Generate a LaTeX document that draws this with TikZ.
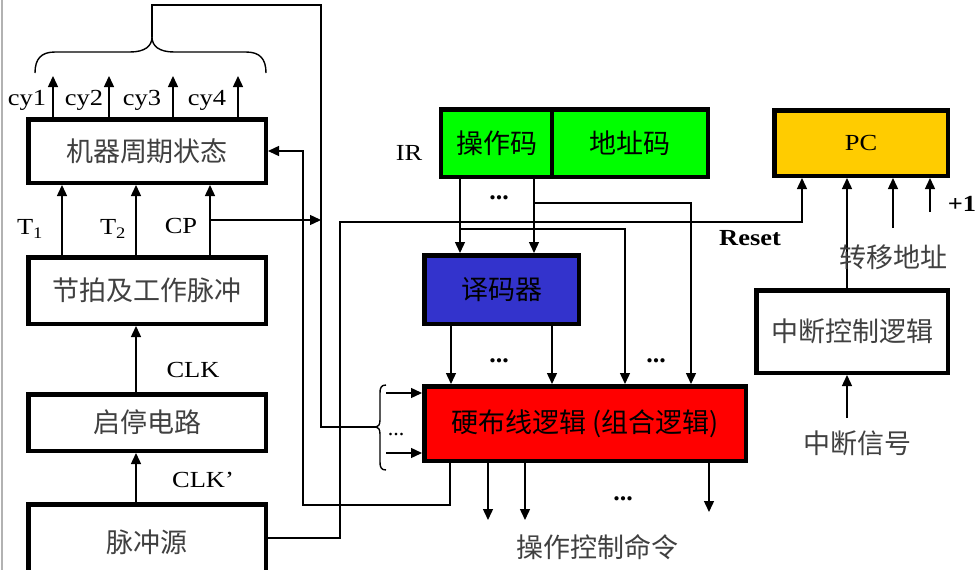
\documentclass[tikz,border=0pt]{standalone}
\usepackage{fontspec}
\setmainfont{Liberation Serif}
\newfontfamily\cjk{Noto Sans CJK SC}
\usetikzlibrary{arrows.meta}
\definecolor{irgreen}{RGB}{0,255,0}
\definecolor{decblue}{RGB}{51,51,204}
\definecolor{hwred}{RGB}{255,0,0}
\definecolor{pcyellow}{RGB}{255,204,0}
\newcommand{\hstr}[1]{\scalebox{1.15}[1]{#1}}
\tikzset{
  box/.style={draw=black, line width=4.5pt, inner sep=0pt, font=\cjk\fontsize{27}{27}\selectfont, text=black!75},
  cbox/.style={box, text=black},
  arr/.style={line width=1.4pt, -{Triangle[length=11pt,width=10pt]}},
  wire/.style={line width=1.4pt},
  lab/.style={font=\fontsize{23}{23}\selectfont, inner sep=0pt},
  blab/.style={font=\bfseries\fontsize{23}{23}\selectfont, inner sep=0pt},
  cjklab/.style={font=\cjk\fontsize{27}{27}\selectfont, inner sep=0pt, text=black!75},
  dotlab/.style={font=\bfseries\fontsize{26}{26}\selectfont, inner sep=0pt, anchor=base}
}
\begin{document}
\begin{tikzpicture}[x=1pt,y=-1pt]
\useasboundingbox (0,0) rectangle (978,570);
\clip (0,0) rectangle (978,570);
\fill[white] (0,0) rectangle (978,570);
\draw[gray!60, line width=1.5pt] (2,0) -- (2,570);

% left column boxes
\node[box, minimum width=237.5pt, minimum height=63.5pt] (mc) at (147,151) {机器周期状态};
\node[box, minimum width=237.5pt, minimum height=66.5pt] (jp) at (147,290.5) {节拍及工作脉冲};
\node[box, minimum width=237.5pt, minimum height=56.5pt] (qt) at (147,422.5) {启停电路};
\node[box, minimum width=237.5pt, minimum height=75.5pt] (ps) at (147,542) {脉冲源};

% IR, decoder, hardwired logic
\node[cbox, fill=irgreen, minimum width=110.75pt, minimum height=67.5pt] (op) at (496.6,143) {操作码};
\node[cbox, fill=irgreen, minimum width=155.75pt, minimum height=67.5pt] (ad) at (629.9,143) {地址码};
\node[cbox, fill=decblue, minimum width=154.5pt, minimum height=68.5pt] (dec) at (501.5,289.5) {译码器};
\node[cbox, fill=hwred, minimum width=321.5pt, minimum height=74.5pt] (red) at (585,423.5) {硬布线逻辑 (组合逻辑)};

% PC and interrupt logic
\node[cbox, fill=pcyellow, minimum width=173.5pt, minimum height=65.5pt, font=\fontsize{23}{23}\selectfont] (pc) at (861,143) {\hstr{PC}};
\node[box, minimum width=191.5pt, minimum height=82.5pt] (int) at (852,331.5) {中断控制逻辑};

% cy outputs
\foreach \x/\n in {53/1,109/2,173/3,238/4} {
  \coordinate (cy\n) at (\x,76);
  \draw[arr] (mc.north -| cy\n) -- (cy\n);
}
\node[lab] at (27,100) {\hstr{cy1}};
\node[lab] at (84,100) {\hstr{cy2}};
\node[lab] at (142,100) {\hstr{cy3}};
\node[lab] at (207,100) {\hstr{cy4}};

% brace above cy and bus
\coordinate (btip) at (152,37);
\draw[wire] (35,73) .. controls (35,59) and (41,52) .. (55,52) -- (130,52)
  .. controls (145,52) and (152,46) .. (btip)
  .. controls (152,46) and (159,52) .. (174,52) -- (246,52)
  .. controls (260,52) and (266,59) .. (266,73);
\coordinate (bus0) at (152,5);
\coordinate (bus1) at (321,5);
\coordinate (bus2) at (321,427);
\coordinate (ltip) at (376,427);
\draw[wire] (btip) -- (bus0) -- (bus1) -- (bus2) -- (ltip);

% T1 T2 CP
\coordinate (tx1) at (62,0);
\coordinate (tx2) at (136,0);
\coordinate (tx3) at (210,0);
\foreach \n in {1,2,3} \draw[arr] (jp.north -| tx\n) -- (mc.south -| tx\n);
\node[lab] at (30,229) {\hstr{T$_{\mathrm{1}}$}};
\node[lab] at (113,229) {\hstr{T$_{\mathrm{2}}$}};
\node[lab] at (181,226) {\hstr{CP}};
\coordinate (cpj) at (210,220);
\coordinate (cpe) at (321,220);
\draw[arr] (cpj) -- (cpe);

% CLK, CLK'
\draw[arr] (qt.north -| tx2) -- (jp.south -| tx2);
\draw[arr] (ps.north -| tx2) -- (qt.south -| tx2);
\node[lab] at (193,370) {\hstr{CLK}};
\node[lab] at (203,480) {\hstr{CLK’}};

% feedback from hardwired logic to machine cycle state
\coordinate (fb1) at (450,505);
\coordinate (fb2) at (303,505);
\draw[arr] (red.south -| fb1) -- (fb1) -- (fb2) -- (fb2 |- mc.east) -- (mc.east);

% reset from pulse source to PC
\coordinate (r1) at (340,538);
\coordinate (r2) at (340,222);
\coordinate (r3) at (802,222);
\draw[arr] (ps.east |- r1) -- (r1) -- (r2) -- (r3) -- (pc.south -| r3);
\node[blab] at (750,238) {\hstr{Reset}};

% IR label and outputs
\node[lab] at (409,153) {\hstr{IR}};
\coordinate (a1) at (460,229);
\coordinate (a2) at (534,203);
\draw[arr] (op.south -| a1) -- (dec.north -| a1);
\draw[arr] (op.south -| a2) -- (dec.north -| a2);
\coordinate (b1) at (625,229);
\coordinate (b2) at (691,203);
\draw[arr] (a1) -- (b1) -- (red.north -| b1);
\draw[arr] (a2) -- (b2) -- (red.north -| b2);
\node[dotlab] at (499,199) {...};

% decoder outputs
\coordinate (d1) at (451,0);
\coordinate (d2) at (552,0);
\draw[arr] (dec.south -| d1) -- (red.north -| d1);
\draw[arr] (dec.south -| d2) -- (red.north -| d2);
\node[dotlab] at (499,362) {...};
\node[dotlab] at (656,362) {...};

% left inputs of hardwired logic with brace
\coordinate (i1) at (386,393);
\coordinate (i2) at (386,453);
\draw[arr] (i1) -- (red.west |- i1);
\draw[arr] (i2) -- (red.west |- i2);
\draw[wire] (386,385) .. controls (381,385) and (380,388) .. (380,393) -- (380,420)
  .. controls (380,425) and (378,427) .. (ltip)
  .. controls (378,427) and (380,429) .. (380,434) -- (380,462)
  .. controls (380,467) and (381,470) .. (386,470);
\node[dotlab, font=\fontsize{22}{22}\selectfont] at (396,435) {...};

% outputs of hardwired logic
\coordinate (o1) at (488,520);
\coordinate (o2) at (525,520);
\coordinate (o3) at (709,512);
\foreach \n in {1,2,3} \draw[arr] (red.south -| o\n) -- (o\n);
\node[dotlab] at (623,500) {...};
\node[cjklab] at (597,547) {操作控制命令};

% PC inputs
\coordinate (p2) at (847,0);
\coordinate (p3) at (893,228);
\coordinate (p4) at (930,212);
\coordinate (p5) at (847,418);
\draw[arr] (int.north -| p2) -- (pc.south -| p2);
\draw[arr] (p3) -- (pc.south -| p3);
\draw[arr] (p4) -- (pc.south -| p4);
\draw[arr] (p5) -- (int.south -| p5);
\node[blab] at (962,204) {\hstr{+1}};
\node[cjklab] at (893,257) {转移地址};
\node[cjklab] at (857,443) {中断信号};
\end{tikzpicture}
\end{document}
